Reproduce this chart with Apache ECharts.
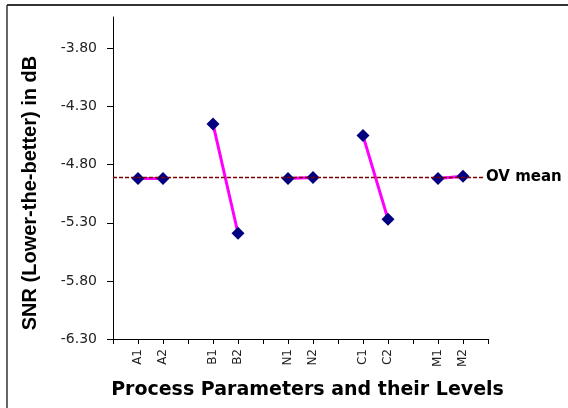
<!DOCTYPE html>
<html>
<head>
<meta charset="utf-8">
<script src="https://cdn.jsdelivr.net/npm/echarts@6/dist/echarts.min.js"></script>
<style>
  html, body { margin: 0; padding: 0; background: #fff; }
  #main { width: 568px; height: 408px; }
</style>
</head>
<body>
<div id="main"></div>
<script type="text/javascript">
    // levels of each process parameter, blanks are the gaps between groups
    var levels = ['', 'A1', 'A2', '', 'B1', 'B2', '', 'N1', 'N2', '', 'C1', 'C2', '', 'M1', 'M2', ''];
    var snr = [null, -4.92, -4.92, null, -4.45, -5.39, null, -4.92, -4.91, null, -4.55, -5.27, null, -4.92, -4.90, null];
    var ovMean = -4.91;
    var yTicks = [-6.3, -5.8, -5.3, -4.8, -4.3, -3.8];

    var myChart = echarts.init(document.getElementById('main'));

    var option = {
        backgroundColor: '#fff',
        animation: false,
        grid: {
            left: 113,
            right: 80,
            top: 17,
            bottom: 69
        },
        graphic: [
            { type: 'line', shape: { x1: 7, y1: 5, x2: 568, y2: 5 }, style: { stroke: '#333', lineWidth: 2 } },
            { type: 'line', shape: { x1: 7, y1: 5, x2: 7, y2: 408 }, style: { stroke: '#333', lineWidth: 1.5 } }
        ],
        xAxis: {
            type: 'category',
            data: levels,
            boundaryGap: false,
            name: 'Process Parameters and their Levels',
            nameLocation: 'middle',
            nameGap: 42,
            nameTextStyle: {
                fontFamily: 'DejaVu Sans',
                fontWeight: 'bold',
                fontSize: 19,
                color: '#000',
                padding: [0, 0, 0, 14]
            },
            axisLine: { onZero: false, lineStyle: { color: '#000', width: 1 } },
            axisTick: { interval: 0, length: 5, lineStyle: { color: '#000' } },
            axisLabel: {
                interval: 0,
                rotate: 90,
                margin: 10,
                fontFamily: 'DejaVu Sans',
                fontSize: 12,
                color: '#222'
            },
            splitLine: { show: false }
        },
        yAxis: {
            type: 'value',
            min: -6.3,
            max: -3.53,
            name: 'SNR (Lower-the-better) in dB',
            nameLocation: 'middle',
            nameGap: 73,
            nameTextStyle: {
                fontFamily: 'Liberation Sans',
                fontWeight: 'bold',
                fontSize: 20,
                color: '#000',
                padding: [0, 30, 0, 0]
            },
            axisLine: { show: true, lineStyle: { color: '#000', width: 1 } },
            axisTick: { show: true, length: 6, customValues: yTicks, lineStyle: { color: '#000' } },
            axisLabel: {
                customValues: yTicks,
                margin: 16,
                fontFamily: 'DejaVu Sans',
                fontSize: 14,
                color: '#222',
                formatter: function (v) { return v.toFixed(2); }
            },
            splitLine: { show: false }
        },
        series: [
            {
                type: 'line',
                data: snr,
                connectNulls: false,
                symbol: 'diamond',
                symbolSize: 13,
                itemStyle: { color: '#000080' },
                lineStyle: { color: '#ff00ff', width: 3 },
                z: 3,
                markLine: {
                    silent: true,
                    symbol: ['none', 'none'],
                    lineStyle: { color: '#800000', width: 1.3, type: [4, 2] },
                    label: {
                        show: true,
                        position: 'end',
                        distance: -5,
                        formatter: 'OV mean',
                        fontFamily: 'DejaVu Sans',
                        fontWeight: 'bold',
                        fontSize: 15,
                        color: '#000',
                        backgroundColor: '#fff',
                        padding: [0, 0, 0, 3]
                    },
                    data: [{ yAxis: ovMean }]
                }
            }
        ]
    };
    myChart.setOption(option);
</script>
</body>
</html>
